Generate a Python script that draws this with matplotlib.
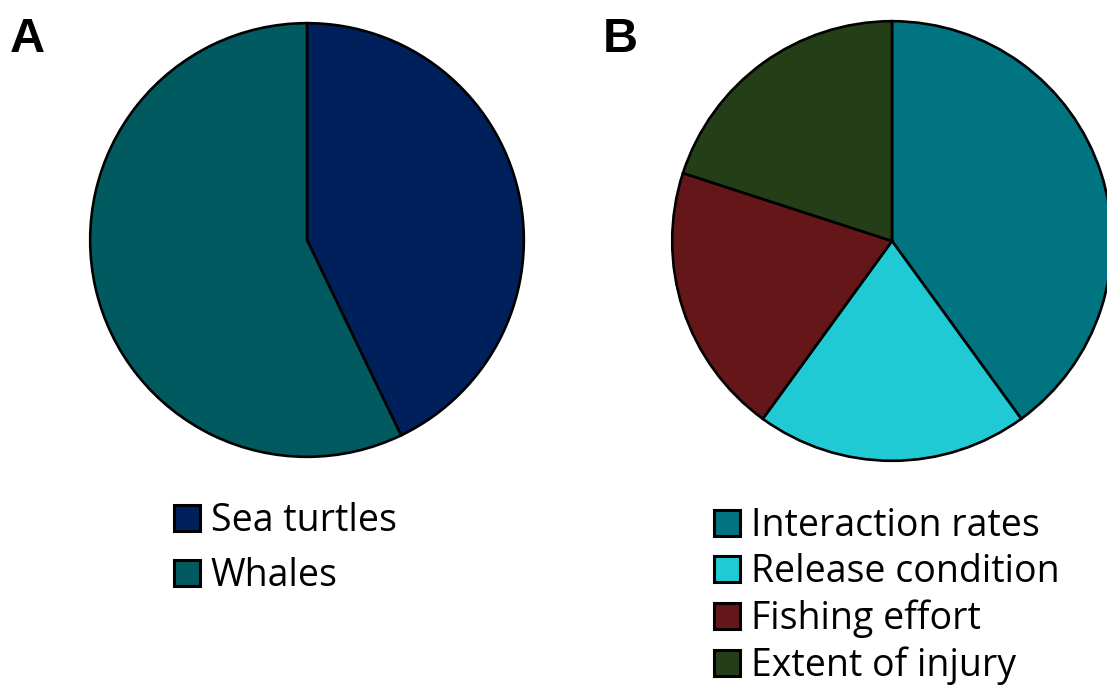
import matplotlib
matplotlib.use("Agg")
import matplotlib.pyplot as plt

# panel A
species = ["Sea turtles", "Whales"]
species_vals = [3, 4]
species_colors = ["#00205B", "#005A5F"]

# panel B
factors = ["Interaction rates", "Release condition", "Fishing effort", "Extent of injury"]
factor_vals = [2, 1, 1, 1]
factor_colors = ["#007480", "#20CAD4", "#641619", "#243F17"]

plt.rcParams['font.family'] = ['Open Sans', 'DejaVu Sans']

W, H = 1107, 687
fig = plt.figure(figsize=(W / 100, H / 100), dpi=100)


def pie_axes(cx, cy, r):
    return fig.add_axes([(cx - r) / W, (H - cy - r) / H, 2 * r / W, 2 * r / H])


wedge_style = dict(edgecolor="black", linewidth=1.9)
leg_style = dict(loc="upper left", bbox_transform=fig.transFigure, frameon=False,
                 fontsize=27, handlelength=0.7, handleheight=0.7, handletextpad=0.28,
                 borderpad=0, borderaxespad=0)

axA = pie_axes(307, 240, 219)
wA, _ = axA.pie(species_vals, colors=species_colors, startangle=90,
                counterclock=False, radius=1, wedgeprops=wedge_style)
axA.set_xlim(-1.01, 1.01)
axA.set_ylim(-1.01, 1.01)
legA = axA.legend(wA, species, bbox_to_anchor=(174 / W, 1 - 502 / H),
                  labelspacing=0.45, **leg_style)

axB = pie_axes(892, 241, 222)
wB, _ = axB.pie(factor_vals, colors=factor_colors, startangle=90,
                counterclock=False, radius=1, wedgeprops=wedge_style)
axB.set_xlim(-1.01, 1.01)
axB.set_ylim(-1.01, 1.01)
legB = axB.legend(wB, factors, bbox_to_anchor=(714 / W, 1 - 507 / H),
                  labelspacing=0.22, **leg_style)

for leg in (legA, legB):
    for p in leg.get_patches():
        p.set_linewidth(2.2)

fig.text(10 / W, 1 - 52 / H, "A", fontsize=35, fontweight="bold",
         family="Liberation Sans", va="baseline")
fig.text(603 / W, 1 - 52 / H, "B", fontsize=35, fontweight="bold",
         family="Liberation Sans", va="baseline")

fig.savefig("out.png", dpi=100)
